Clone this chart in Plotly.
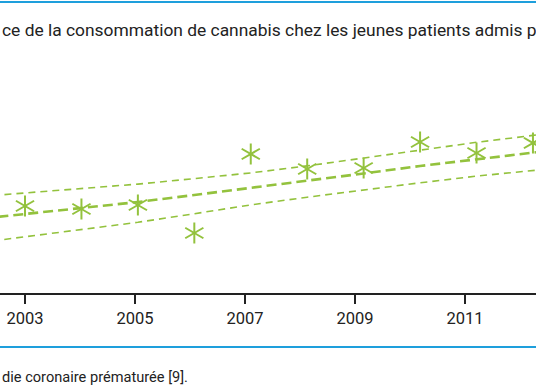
import plotly.graph_objects as go

# ---- data (y in arbitrary prevalence units) ----
years = [2003, 2004, 2005, 2006, 2007, 2008, 2009, 2010, 2011, 2012]
observed = [8.7, 8.4, 8.8, 6.0, 13.9, 12.4, 12.5, 15.1, 14.0, 15.0]

line_years = [2002, 2003, 2004, 2005, 2006, 2007, 2008, 2009, 2010, 2011, 2012, 2013]
fit = [7.3, 7.9, 8.5, 9.1, 9.8, 10.5, 11.2, 11.95, 12.7, 13.4, 14.05, 14.7]
upper = [9.56, 10.0, 10.44, 10.89, 11.44, 12.01, 12.71, 13.5, 14.26, 15.07, 15.76, 16.5]
lower = [4.9, 5.62, 6.34, 7.07, 7.93, 8.81, 9.58, 10.33, 11.02, 11.69, 12.25, 12.8]

tick_years = [2003, 2005, 2007, 2009, 2011]
tick_labels = ["2003", "2005", "2007", "2009", "2011"]

title_text = "ce de la consommation de cannabis chez les jeunes patients admis p"
caption_text = "die coronaire prématurée [9]."

GREEN = "#93c23d"
BLUE = "#1e9fdc"
DARK = "#222222"

W, H = 536, 386
TOP, BOTTOM = 43, 293  # plot area pixel rows


def py(pixel_row):
    """pixel row -> paper y (paper spans the plot area)"""
    return (BOTTOM - pixel_row) / (BOTTOM - TOP)


fig = go.Figure()

# invisible trace so the tick axis (x) is drawn
fig.add_trace(go.Scatter(x=[tick_years[0]], y=[None], mode="markers",
                         hoverinfo="skip", showlegend=False))

# confidence band lines
for vals in (upper, lower):
    fig.add_trace(go.Scatter(
        x=line_years, y=vals, xaxis="x2", mode="lines",
        line=dict(color=GREEN, width=1.6, dash="7px,5px"),
        hoverinfo="skip", showlegend=False))

# regression line
fig.add_trace(go.Scatter(
    x=line_years, y=fit, xaxis="x2", mode="lines",
    line=dict(color=GREEN, width=2.6, dash="10px,5px"),
    hoverinfo="skip", showlegend=False))

# six-spoke asterisk markers (three rotated strokes)
for ang in (0, 60, 120):
    fig.add_trace(go.Scatter(
        x=years, y=observed, xaxis="x2", mode="markers",
        marker=dict(symbol="line-ns-open", size=15, angle=ang, color=GREEN,
                    line=dict(color=GREEN, width=2)),
        showlegend=False))

# tick-axis scale: 55 px per year, 2003 at 25 px
px_year_ticks = 55.0
x0_ticks = 2003 - 25 / px_year_ticks
# marker scale: 56.44 px per year, 2003 at 25 px
px_year_marks = 56.44
x0_marks = 2003 - 25 / px_year_marks

fig.update_layout(
    width=W, height=H,
    margin=dict(l=0, r=0, t=TOP, b=H - BOTTOM, pad=0),
    paper_bgcolor="white", plot_bgcolor="white",
    showlegend=False,
    xaxis=dict(
        range=[x0_ticks, x0_ticks + W / px_year_ticks],
        tickvals=tick_years, ticktext=tick_labels,
        showgrid=False, zeroline=False,
        showline=True, linecolor=DARK, linewidth=1.5,
        ticks="outside", ticklen=9, tickwidth=1.5, tickcolor=DARK,
        tickfont=dict(family="Roboto", size=16.5, color=DARK),
        fixedrange=True,
    ),
    xaxis2=dict(
        range=[x0_marks, x0_marks + W / px_year_marks],
        overlaying="x", visible=False, fixedrange=True,
    ),
    yaxis=dict(range=[0, 25], visible=False, fixedrange=True),
    shapes=[
        dict(type="line", xref="paper", yref="paper", x0=0, x1=1,
             y0=py(2), y1=py(2), line=dict(color=BLUE, width=2)),
        dict(type="line", xref="paper", yref="paper", x0=0, x1=1,
             y0=py(347), y1=py(347), line=dict(color=BLUE, width=2)),
    ],
    annotations=[
        dict(text=title_text, xref="paper", yref="paper",
             x=0, y=py(30), xanchor="left", yanchor="middle",
             showarrow=False, font=dict(family="Roboto", size=17.4, color=DARK)),
        dict(text=caption_text, xref="paper", yref="paper",
             x=0, y=py(377), xanchor="left", yanchor="middle",
             showarrow=False, font=dict(family="Roboto", size=14.6, color=DARK)),
    ],
)

fig.write_html("out.html", config={"displayModeBar": False},
               post_script="document.body.style.margin='0';document.body.style.overflow='hidden';")
